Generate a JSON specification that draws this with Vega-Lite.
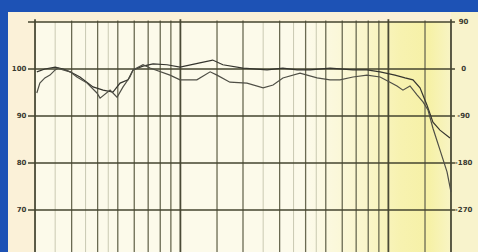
{
  "$schema": "https://vega.github.io/schema/vega-lite/v6.json",
  "width": 470,
  "height": 240,
  "autosize": "none",
  "padding": {"left": 8, "top": 12, "right": 0, "bottom": 0},
  "background": "#1d52b5",
  "config": {"view": {"stroke": null, "fill": "#fbf1d8"}},
  "datasets": {
    "hlines": [{"db": 110}, {"db": 100}, {"db": 90}, {"db": 80}, {"db": 70}],
    "major": [{"f": 20}, {"f": 100}, {"f": 1000}, {"f": 2000}],
    "medium": [{"f": 30}, {"f": 40}, {"f": 50}, {"f": 60}, {"f": 70}, {"f": 80}, {"f": 90}, {"f": 150}, {"f": 200}, {"f": 300}, {"f": 400}, {"f": 500}, {"f": 600}, {"f": 700}, {"f": 800}, {"f": 900}, {"f": 1500}],
    "minor": [{"f": 25}, {"f": 35}, {"f": 45}, {"f": 250}, {"f": 350}, {"f": 450}],
    "leftLabels": [{"db": 100, "t": "100"}, {"db": 90, "t": "90"}, {"db": 80, "t": "80"}, {"db": 70, "t": "70"}],
    "rightLabels": [{"db": 110, "t": "90"}, {"db": 100, "t": "0"}, {"db": 90, "t": "-90"}, {"db": 80, "t": "-180"}, {"db": 70, "t": "-270"}],
    "plotArea": [{"f1": 20, "f2": 2000, "d1": 61.06, "d2": 110}],
    "yellowArea": [{"f1": 400, "f2": 2000, "d1": 61.06, "d2": 110}],
    "rightMargin": [{"f1": 2000, "f2": 2697, "d1": 61.06, "d2": 112.13}],
    "curves": [
      {"s": "a", "f": 20.4, "db": 99.4}, {"s": "a", "f": 22.3, "db": 100.0}, {"s": "a", "f": 25.0, "db": 100.4}, {"s": "a", "f": 27.3, "db": 100.0}, {"s": "a", "f": 29.5, "db": 99.4}, {"s": "a", "f": 32.9, "db": 98.3}, {"s": "a", "f": 38.0, "db": 96.2}, {"s": "a", "f": 42.5, "db": 95.5}, {"s": "a", "f": 47.4, "db": 95.1}, {"s": "a", "f": 51.3, "db": 97.0}, {"s": "a", "f": 56.0, "db": 97.7}, {"s": "a", "f": 59.2, "db": 99.8}, {"s": "a", "f": 66.1, "db": 100.6}, {"s": "a", "f": 73.9, "db": 101.1}, {"s": "a", "f": 86.2, "db": 100.9}, {"s": "a", "f": 99.6, "db": 100.4}, {"s": "a", "f": 124, "db": 101.3}, {"s": "a", "f": 143, "db": 101.9}, {"s": "a", "f": 160, "db": 100.9}, {"s": "a", "f": 200, "db": 100.2}, {"s": "a", "f": 261, "db": 99.8}, {"s": "a", "f": 311, "db": 100.2}, {"s": "a", "f": 364, "db": 99.8}, {"s": "a", "f": 420, "db": 99.8}, {"s": "a", "f": 524, "db": 100.2}, {"s": "a", "f": 676, "db": 99.8}, {"s": "a", "f": 789, "db": 99.8}, {"s": "a", "f": 912, "db": 99.4}, {"s": "a", "f": 1076, "db": 98.7}, {"s": "a", "f": 1202, "db": 98.1}, {"s": "a", "f": 1313, "db": 97.7}, {"s": "a", "f": 1419, "db": 96.0}, {"s": "a", "f": 1534, "db": 92.3}, {"s": "a", "f": 1638, "db": 88.7}, {"s": "a", "f": 1770, "db": 87.0}, {"s": "a", "f": 1978, "db": 85.3},
      {"s": "b", "f": 20.4, "db": 94.9}, {"s": "b", "f": 21.1, "db": 97.0}, {"s": "b", "f": 22.3, "db": 98.1}, {"s": "b", "f": 23.6, "db": 98.7}, {"s": "b", "f": 25.0, "db": 99.8}, {"s": "b", "f": 25.8, "db": 100.2}, {"s": "b", "f": 27.3, "db": 99.8}, {"s": "b", "f": 29.5, "db": 99.4}, {"s": "b", "f": 31.8, "db": 98.3}, {"s": "b", "f": 35.6, "db": 97.0}, {"s": "b", "f": 39.7, "db": 94.9}, {"s": "b", "f": 41.1, "db": 93.8}, {"s": "b", "f": 45.9, "db": 95.5}, {"s": "b", "f": 49.6, "db": 94.0}, {"s": "b", "f": 53.0, "db": 96.2}, {"s": "b", "f": 57.2, "db": 98.3}, {"s": "b", "f": 59.2, "db": 99.8}, {"s": "b", "f": 66.1, "db": 100.9}, {"s": "b", "f": 71.5, "db": 100.2}, {"s": "b", "f": 89.1, "db": 98.7}, {"s": "b", "f": 99.6, "db": 97.7}, {"s": "b", "f": 120, "db": 97.7}, {"s": "b", "f": 139, "db": 99.4}, {"s": "b", "f": 150, "db": 98.7}, {"s": "b", "f": 173, "db": 97.2}, {"s": "b", "f": 209, "db": 97.0}, {"s": "b", "f": 250, "db": 96.0}, {"s": "b", "f": 279, "db": 96.6}, {"s": "b", "f": 311, "db": 98.1}, {"s": "b", "f": 376, "db": 99.1}, {"s": "b", "f": 454, "db": 98.1}, {"s": "b", "f": 524, "db": 97.7}, {"s": "b", "f": 585, "db": 97.7}, {"s": "b", "f": 676, "db": 98.3}, {"s": "b", "f": 789, "db": 98.7}, {"s": "b", "f": 912, "db": 98.3}, {"s": "b", "f": 1018, "db": 97.2}, {"s": "b", "f": 1100, "db": 96.4}, {"s": "b", "f": 1175, "db": 95.5}, {"s": "b", "f": 1270, "db": 96.4}, {"s": "b", "f": 1373, "db": 94.5}, {"s": "b", "f": 1467, "db": 93.0}, {"s": "b", "f": 1550, "db": 91.3}, {"s": "b", "f": 1638, "db": 87.4}, {"s": "b", "f": 1770, "db": 82.8}, {"s": "b", "f": 1914, "db": 78.1}, {"s": "b", "f": 2000, "db": 73.8}
    ]
  },
  "layer": [
    {
      "data": {"name": "plotArea"},
      "mark": {"type": "rect", "fill": "#fcfaea", "opacity": 1},
      "encoding": {
        "x": {"field": "f1", "type": "quantitative", "scale": {"type": "log", "domain": [14.83, 2697], "nice": false, "zero": false}, "axis": null},
        "x2": {"field": "f2"},
        "y": {"field": "d1", "type": "quantitative", "scale": {"domain": [61.06, 112.13], "nice": false, "zero": false}, "axis": null},
        "y2": {"field": "d2"}
      }
    },
    {
      "data": {"name": "yellowArea"},
      "mark": {"type": "rect", "color": {"gradient": "linear", "x1": 0, "y1": 0, "x2": 1, "y2": 0, "stops": [{"offset": 0, "color": "#fcfaea"}, {"offset": 0.4, "color": "#faf6cc"}, {"offset": 0.65, "color": "#f7f2b0"}, {"offset": 0.85, "color": "#f6f1a6"}, {"offset": 1, "color": "#f8f4c4"}]}},
      "encoding": {
        "x": {"field": "f1", "type": "quantitative"},
        "x2": {"field": "f2"},
        "y": {"field": "d1", "type": "quantitative"},
        "y2": {"field": "d2"}
      }
    },
    {
      "data": {"name": "rightMargin"},
      "mark": {"type": "rect", "fill": "#f8f3cc"},
      "encoding": {
        "x": {"field": "f1", "type": "quantitative"},
        "x2": {"field": "f2"},
        "y": {"field": "d1", "type": "quantitative"},
        "y2": {"field": "d2"}
      }
    },
    {
      "data": {"name": "minor"},
      "mark": {"type": "rule", "color": "#bdbca4", "strokeWidth": 0.8},
      "encoding": {"x": {"field": "f", "type": "quantitative"}, "y": {"datum": 61.06, "type": "quantitative"}, "y2": {"datum": 110}}
    },
    {
      "data": {"name": "medium"},
      "mark": {"type": "rule", "color": "#6a6a52", "strokeWidth": 1.3},
      "encoding": {"x": {"field": "f", "type": "quantitative"}, "y": {"datum": 61.06, "type": "quantitative"}, "y2": {"datum": 110.3}}
    },
    {
      "data": {"name": "major"},
      "mark": {"type": "rule", "color": "#4a4a36", "strokeWidth": 1.8},
      "encoding": {"x": {"field": "f", "type": "quantitative"}, "y": {"datum": 61.06, "type": "quantitative"}, "y2": {"datum": 110.6}}
    },
    {
      "data": {"name": "hlines"},
      "mark": {"type": "rule", "color": "#45452f", "strokeWidth": 1.5},
      "encoding": {"y": {"field": "db", "type": "quantitative"}, "x": {"datum": 18.5, "type": "quantitative"}, "x2": {"datum": 2090}}
    },
    {
      "data": {"name": "curves"},
      "mark": {"type": "line", "strokeWidth": 1.2, "interpolate": "linear"},
      "encoding": {
        "x": {"field": "f", "type": "quantitative"},
        "y": {"field": "db", "type": "quantitative"},
        "detail": {"field": "s"},
        "color": {"field": "s", "type": "nominal", "scale": {"domain": ["a", "b"], "range": ["#35352e", "#4f4f46"]}, "legend": null}
      }
    },
    {
      "data": {"name": "leftLabels"},
      "mark": {"type": "text", "align": "right", "baseline": "middle", "font": "DejaVu Sans", "fontSize": 7, "fontWeight": "bold", "color": "#3a3a30"},
      "encoding": {"x": {"datum": 18.2, "type": "quantitative"}, "y": {"field": "db", "type": "quantitative"}, "text": {"field": "t"}}
    },
    {
      "data": {"name": "rightLabels"},
      "mark": {"type": "text", "align": "center", "baseline": "middle", "font": "DejaVu Sans", "fontSize": 7, "fontWeight": "bold", "color": "#3a3a30"},
      "encoding": {"x": {"datum": 2300, "type": "quantitative"}, "y": {"field": "db", "type": "quantitative"}, "text": {"field": "t"}}
    },
    {
      "mark": {"type": "text", "align": "center", "baseline": "middle", "font": "DejaVu Sans", "fontSize": 7, "fontWeight": "bold", "color": "#3a3a30", "lineHeight": 9},
      "encoding": {"x": {"datum": 17.3, "type": "quantitative"}, "y": {"datum": 104.7, "type": "quantitative"}, "text": {"value": ["d", "B"]}}
    },
    {
      "mark": {"type": "text", "align": "center", "baseline": "middle", "font": "DejaVu Sans", "fontSize": 6, "fontWeight": "bold", "color": "#3a3a30"},
      "encoding": {"x": {"datum": 2300, "type": "quantitative"}, "y": {"datum": 104.0, "type": "quantitative"}, "text": {"value": "deg"}}
    }
  ]
}
